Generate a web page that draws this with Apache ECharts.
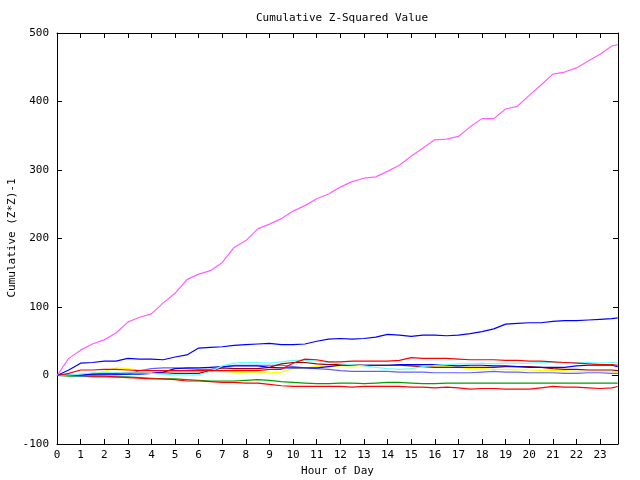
<!DOCTYPE html>
<html><head><meta charset="utf-8">
<script src="https://cdn.jsdelivr.net/npm/echarts@6/dist/echarts.min.js"></script>
<style>html,body{margin:0;padding:0;background:#fff}#c{width:640px;height:480px}</style>
</head><body><div id="c"></div>
<script>
const hours = [0,0.5,1,1.5,2,2.5,3,3.5,4,4.5,5,5.5,6,6.5,7,7.5,8,8.5,9,9.5,10,10.5,11,11.5,12,12.5,13,13.5,14,14.5,15,15.5,16,16.5,17,17.5,18,18.5,19,19.5,20,20.5,21,21.5,22,22.5,23,23.5,23.75];
const xTicks = ['0','1','2','3','4','5','6','7','8','9','10','11','12','13','14','15','16','17','18','19','20','21','22','23'];
const yTicks = [-100,0,100,200,300,400,500];

const magenta = [0,25,37,46,52,62,78,85,90,106,120,140,148,153,165,187,197,214,221,229,240,248,258,265,275,283,288,290,298,307,320,332,344,345,349,363,375,375,389,393,409,424,440,443,449,459,469,481,483];
const blueBig = [0,8,18,19,21,21,25,24,24,23,27,30,40,41,42,44,45,46,47,45,45,46,50,53,54,53,54,56,60,59,57,59,59,58,59,61,64,68,75,76,77,77,79,80,80,81,82,83,84];
const redTop = [0,3,8,8,9,9,8,7,7,7,7,7,7,7,7,7,7,7,9,9,18,24,23,20,20,21,21,21,21,22,26,25,25,25,24,23,23,23,22,22,21,21,20,19,18,17,16,16,15];
const cyan = [0,1,2,4,4,4,4,4,3,2,1,1,1,6,14,18,19,19,18,20,22,22,21,19,17,16,14,12,10,9,10,13,15,16,17,17,18,17,18,18,18,19,19,19,19,19,18,19,18];
const blueSmall = [0,1,1,2,2,2,2,2,3,5,10,11,11,12,13,14,14,14,12,11,11,11,11,13,15,15,15,15,15,16,16,16,16,15,14,15,15,14,14,13,12,12,12,12,14,15,15,15,13];
const darkRed = [0,1,1,2,3,3,4,4,3,4,3,3,3,7,11,10,10,10,12,17,19,19,17,16,16,16,15,15,15,15,14,13,12,12,12,12,12,12,13,13,13,12,10,9,9,8,8,8,7];
const yellow = [0,1,2,3,6,11,10,8,7,6,6,6,6,6,6,5,4,4,4,5,10,11,13,13,14,14,14,15,15,15,14,14,13,13,12,10,10,9,9,8,8,7,7,7,6,6,6,6,5];
const slateBlue = [0,0,-1,0,1,1,2,7,10,11,11,10,9,9,12,15,15,15,15,15,13,11,10,9,7,6,6,6,6,5,5,5,4,4,4,4,5,6,5,5,4,4,4,3,3,4,4,3,3];
const green = [0,-1,-1,-2,-2,-2,-2,-3,-4,-5,-5,-6,-7,-8,-8,-8,-7,-6,-7,-9,-10,-11,-12,-12,-11,-11,-12,-11,-10,-10,-11,-12,-12,-11,-11,-11,-11,-11,-11,-11,-11,-11,-11,-11,-11,-11,-11,-11,-11];
const redNeg = [0,0,0,-1,-1,-2,-3,-4,-5,-5,-6,-8,-8,-9,-10,-10,-11,-11,-13,-15,-16,-16,-16,-16,-16,-17,-16,-16,-16,-16,-17,-17,-18,-17,-18,-20,-19,-19,-20,-20,-20,-18,-16,-17,-17,-18,-19,-18,-16];
const blackHours = [23.5,23.75];
const black = [0,0];
const yAxisTitle = 'Cumulative (Z*Z)-1';

const seriesDefs = [
  {name:'green', data:green, color:'#00a000'},
  {name:'redNeg', data:redNeg, color:'#ff0000'},
  {name:'slateBlue', data:slateBlue, color:'#6060ff'},
  {name:'yellow', data:yellow, color:'#ffff00'},
  {name:'darkRed', data:darkRed, color:'#a00000'},
  {name:'blueSmall', data:blueSmall, color:'#0000ff'},
  {name:'cyan', data:cyan, color:'#60ffff'},
  {name:'redTop', data:redTop, color:'#ff0000'},
  {name:'blueBig', data:blueBig, color:'#0000ff'},
  {name:'magenta', data:magenta, color:'#ff60ff'}
];

const font = 'DejaVu Sans Mono';
const chart = echarts.init(document.getElementById('c'), null, {renderer:'canvas'});
const series = seriesDefs.map(s => ({
  type:'line', name:s.name, showSymbol:false, smooth:false,
  data: s.data.map((v,i)=>[hours[i], v]),
  lineStyle:{color:s.color, width:1.2}, itemStyle:{color:s.color},
  z: 2
}));
series.push({type:'line', name:'black', showSymbol:false,
  data: black.map((v,i)=>[blackHours[i], v]),
  lineStyle:{color:'#000', width:1}, z:2});

const axisCommon = {
  axisLine:{show:true, onZero:false, lineStyle:{color:'#000', width:1}},
  axisTick:{show:true, inside:true, length:5, lineStyle:{color:'#000'}},
  splitLine:{show:false}
};

chart.setOption({
  animation:false,
  backgroundColor:'#fff',
  title:{text:'Cumulative Z-Squared Value', left:337, textAlign:'center', top:8,
    textStyle:{fontFamily:font, fontSize:11, fontWeight:'normal', color:'#000'}},
  graphic:[{type:'text', x:12, y:238, rotation:Math.PI/2,
    style:{text:yAxisTitle, fontFamily:font, fontSize:11, fill:'#000', align:'center', verticalAlign:'middle'}}],
  grid:{left:57, right:22, top:33, bottom:36, outerBoundsMode:'none', containLabel:false},
  xAxis:[
    Object.assign({type:'value', min:0, max:23.76, interval:1, position:'bottom',
      name:'Hour of Day', nameLocation:'middle', nameGap:22, nameMoveOverlap:false,
      nameTextStyle:{fontFamily:font, fontSize:11, color:'#000'},
      axisLabel:{fontFamily:font, fontSize:11, color:'#000', margin:6,
        formatter:(v)=>{const i=Math.round(v); return (Math.abs(v-i)<1e-6 && i<xTicks.length)?xTicks[i]:'';}}
    }, axisCommon),
    Object.assign({type:'value', min:0, max:23.76, interval:1, position:'top',
      axisLabel:{show:false}}, axisCommon)
  ],
  yAxis:[
    Object.assign({type:'value', min:yTicks[0], max:yTicks[yTicks.length-1], interval:100, position:'left',
      axisLabel:{fontFamily:font, fontSize:11, color:'#000', margin:8}
    }, axisCommon),
    Object.assign({type:'value', min:yTicks[0], max:yTicks[yTicks.length-1], interval:100, position:'right',
      axisLabel:{show:false}}, axisCommon)
  ],
  series: series
});
</script></body></html>
